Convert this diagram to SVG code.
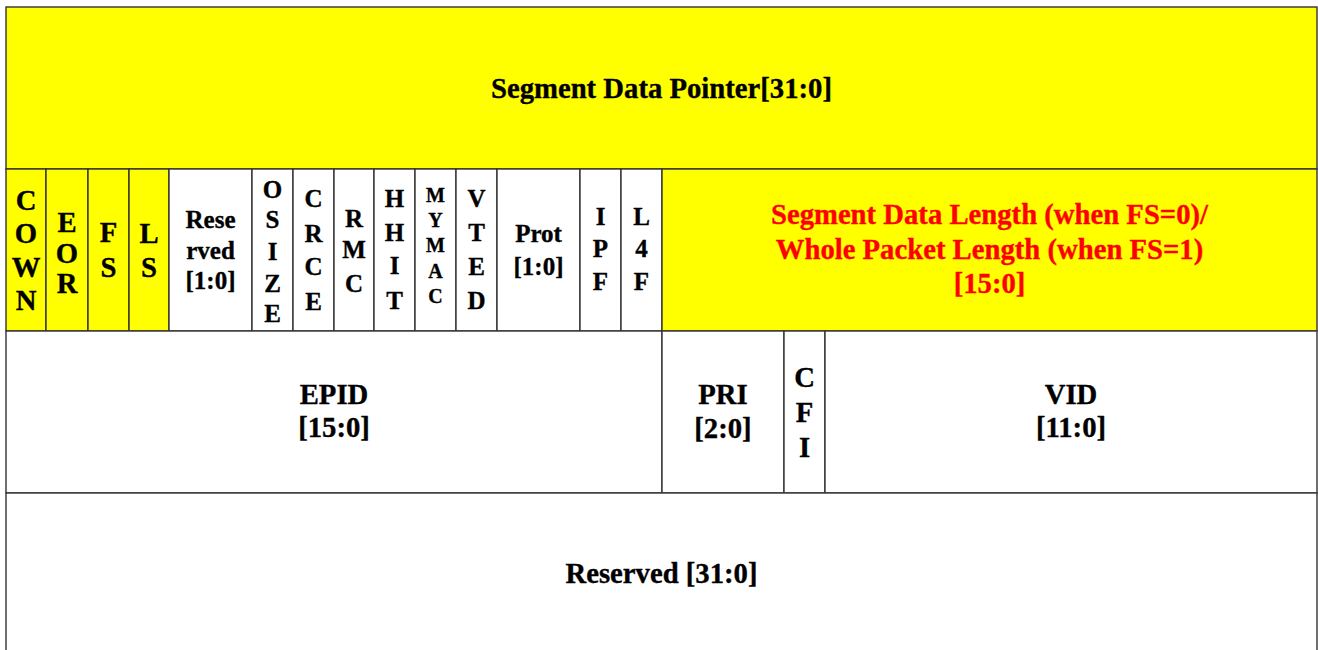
<svg xmlns="http://www.w3.org/2000/svg" width="1318" height="650" viewBox="0 0 1318 650">
  <style>
    .cell { stroke: #333; stroke-width: 1.4; }
    .y { fill: #ffff00; }
    .w { fill: #ffffff; }
    text { font-family: "Liberation Serif", "Times New Roman", serif; font-weight: bold; text-anchor: middle; fill: #000; stroke: #000; stroke-width: 0.35; }
    .big { font-size: 28.7px; }
    .mid { font-size: 25px; }
    .sm { font-size: 20px; }
    text.red { fill: #ff0000; stroke: #ff0000; }
  </style>
  <rect width="1318" height="650" fill="#ffffff"/>

  <!-- Word 0 -->
  <g id="seg-data-pointer">
    <rect class="cell y" x="6" y="7" width="1311" height="162"/>
    <text class="big" x="661.5" y="97.5">Segment Data Pointer[31:0]</text>
  </g>

  <!-- Word 1: status / control bits -->
  <g id="cown">
    <rect class="cell y" x="6" y="169" width="40" height="162"/>
    <text class="big" x="26" y="210">C</text>
    <text class="big" x="26" y="243">O</text>
    <text class="big" x="26" y="277">W</text>
    <text class="big" x="26" y="310">N</text>
  </g>
  <g id="eor">
    <rect class="cell y" x="46" y="169" width="42" height="162"/>
    <text class="big" x="67" y="232">E</text>
    <text class="big" x="67" y="263">O</text>
    <text class="big" x="67" y="293">R</text>
  </g>
  <g id="fs">
    <rect class="cell y" x="88" y="169" width="41" height="162"/>
    <text class="big" x="108.5" y="242">F</text>
    <text class="big" x="108.5" y="277">S</text>
  </g>
  <g id="ls">
    <rect class="cell y" x="129" y="169" width="40" height="162"/>
    <text class="big" x="149" y="243">L</text>
    <text class="big" x="149" y="277">S</text>
  </g>
  <g id="reserved-1-0">
    <rect class="cell w" x="169" y="169" width="83" height="162"/>
    <text class="mid" x="210.5" y="228">Rese</text>
    <text class="mid" x="210.5" y="259">rved</text>
    <text class="mid" x="210.5" y="289">[1:0]</text>
  </g>
  <g id="osize">
    <rect class="cell w" x="252" y="169" width="41" height="162"/>
    <text class="mid" x="272.5" y="198">O</text>
    <text class="mid" x="272.5" y="228">S</text>
    <text class="mid" x="272.5" y="260">I</text>
    <text class="mid" x="272.5" y="292">Z</text>
    <text class="mid" x="272.5" y="322">E</text>
  </g>
  <g id="crce">
    <rect class="cell w" x="293" y="169" width="41" height="162"/>
    <text class="mid" x="313.5" y="207">C</text>
    <text class="mid" x="313.5" y="242">R</text>
    <text class="mid" x="313.5" y="275">C</text>
    <text class="mid" x="313.5" y="310">E</text>
  </g>
  <g id="rmc">
    <rect class="cell w" x="334" y="169" width="40" height="162"/>
    <text class="mid" x="354" y="227">R</text>
    <text class="mid" x="354" y="258">M</text>
    <text class="mid" x="354" y="292">C</text>
  </g>
  <g id="hhit">
    <rect class="cell w" x="374" y="169" width="41" height="162"/>
    <text class="mid" x="394.5" y="207">H</text>
    <text class="mid" x="394.5" y="241">H</text>
    <text class="mid" x="394.5" y="274">I</text>
    <text class="mid" x="394.5" y="309">T</text>
  </g>
  <g id="mymac">
    <rect class="cell w" x="415" y="169" width="41" height="162"/>
    <text class="sm" x="435.5" y="202">M</text>
    <text class="sm" x="435.5" y="227">Y</text>
    <text class="sm" x="435.5" y="252">M</text>
    <text class="sm" x="435.5" y="278">A</text>
    <text class="sm" x="435.5" y="303">C</text>
  </g>
  <g id="vted">
    <rect class="cell w" x="456" y="169" width="41" height="162"/>
    <text class="mid" x="476.5" y="207">V</text>
    <text class="mid" x="476.5" y="241">T</text>
    <text class="mid" x="476.5" y="275">E</text>
    <text class="mid" x="476.5" y="309">D</text>
  </g>
  <g id="prot">
    <rect class="cell w" x="497" y="169" width="83" height="162"/>
    <text class="mid" x="538.5" y="242">Prot</text>
    <text class="mid" x="538.5" y="275">[1:0]</text>
  </g>
  <g id="ipf">
    <rect class="cell w" x="580" y="169" width="41" height="162"/>
    <text class="mid" x="600.5" y="225">I</text>
    <text class="mid" x="600.5" y="257">P</text>
    <text class="mid" x="600.5" y="290">F</text>
  </g>
  <g id="l4f">
    <rect class="cell w" x="621" y="169" width="41" height="162"/>
    <text class="mid" x="641.5" y="225">L</text>
    <text class="mid" x="641.5" y="257">4</text>
    <text class="mid" x="641.5" y="290">F</text>
  </g>
  <g id="seg-length">
    <rect class="cell y" x="662" y="169" width="655" height="162"/>
    <text class="big red" x="989.5" y="223.5">Segment Data Length (when FS=0)/</text>
    <text class="big red" x="989.5" y="258.5">Whole Packet Length (when FS=1)</text>
    <text class="big red" x="989.5" y="292.5">[15:0]</text>
  </g>

  <!-- Word 2: VLAN tag fields -->
  <g id="epid">
    <rect class="cell w" x="6" y="331" width="656" height="162"/>
    <text class="big" x="334" y="403.5">EPID</text>
    <text class="big" x="334" y="437">[15:0]</text>
  </g>
  <g id="pri">
    <rect class="cell w" x="662" y="331" width="122" height="162"/>
    <text class="big" x="723" y="403.5">PRI</text>
    <text class="big" x="723" y="438">[2:0]</text>
  </g>
  <g id="cfi">
    <rect class="cell w" x="784" y="331" width="41" height="162"/>
    <text class="big" x="804.5" y="387">C</text>
    <text class="big" x="804.5" y="422">F</text>
    <text class="big" x="804.5" y="457">I</text>
  </g>
  <g id="vid">
    <rect class="cell w" x="825" y="331" width="492" height="162"/>
    <text class="big" x="1071" y="403.5">VID</text>
    <text class="big" x="1071" y="437">[11:0]</text>
  </g>

  <!-- Word 3 -->
  <g id="reserved-31-0">
    <rect class="cell w" x="6" y="493" width="1311" height="170"/>
    <text class="big" x="661.5" y="582.5">Reserved [31:0]</text>
  </g>
</svg>
